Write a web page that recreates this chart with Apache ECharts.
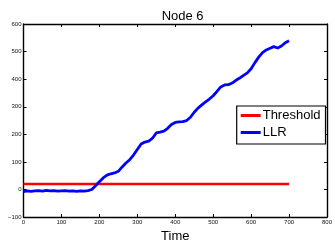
<!DOCTYPE html>
<html>
<head>
<meta charset="utf-8">
<script src="https://cdn.jsdelivr.net/npm/echarts@6/dist/echarts.min.js"></script>
<style>html,body{margin:0;padding:0;background:#fff;}#c{width:335px;height:248px;}</style>
</head>
<body>
<div id="c"></div>
<script>
var titleText = "Node 6";
var xLabel = "Time";
var timeSteps = [0,10,20,30,40,50,60,70,80,90,100,110,120,130,140,150,160,170,180,190,200,210,220,230,240,250,260,270,280,290,300,310,320,330,340,350,360,370,380,390,400,410,420,430,440,450,460,470,480,490,500,510,520,530,540,550,560,570,580,590,600,610,620,630,640,650,660,670,680,690,700];
var llrValues = [-8,-5,-7,-5,-4,-6,-3,-5,-4,-6,-5,-4,-6,-5,-7,-5,-6,-4,0,14,28,42,52,57,60,66,82,96,108,125,145,165,172,175,186,205,208,212,222,236,243,245,246,250,262,280,295,307,318,328,340,356,372,379,380,386,396,404,414,423,438,460,480,496,506,512,518,513,520,532,539];
var thresholdX = [0,700];
var thresholdValues = [20,20];
var seriesNames = ["Threshold","LLR"];

function pairs(xs, ys){ return xs.map(function(x,i){ return [x, ys[i]]; }); }
function fmt(v){ return v < 0 ? "\u2212" + Math.abs(v) : String(v); }

var chart = echarts.init(document.getElementById('c'), null, {renderer:'canvas'});
var font = "Liberation Sans, Arial, Helvetica, sans-serif";
var axisLineStyle = {color:'#000', width:1.4};
chart.setOption({
  animation:false,
  title:{text:titleText, left:177.6, textAlign:'center', top:5, textStyle:{fontFamily:font, fontSize:13, fontWeight:'normal', color:'#000'}},
  grid:{left:23.5, right:3.3, top:24, bottom:25.3},
  legend:{
    orient:'vertical', left:236.7, top:106,
    backgroundColor:'#fff', borderColor:'#000', borderWidth:1.2,
    padding:[3,5,5,4], itemGap:4, itemWidth:20, itemHeight:3,
    textStyle:{fontFamily:font, fontSize:13, color:'#000', padding:[0,0,0,-3]},
    data:[{name:seriesNames[0], icon:'rect'},{name:seriesNames[1], icon:'rect'}]
  },
  xAxis:[
    {type:'value', min:0, max:800, interval:100, name:xLabel, nameLocation:'middle', nameGap:12,
     nameTextStyle:{fontFamily:font, fontSize:13, color:'#000'},
     axisLine:{show:true, onZero:false, lineStyle:axisLineStyle},
     axisTick:{show:true, inside:true, length:3, lineStyle:{color:'#000'}},
     axisLabel:{fontFamily:font, fontSize:6, color:'#111', margin:2, formatter:fmt},
     splitLine:{show:false}},
    {type:'value', position:'top', min:0, max:800, interval:100,
     axisLine:{show:true, onZero:false, lineStyle:axisLineStyle},
     axisTick:{show:true, inside:true, length:3, lineStyle:{color:'#000'}},
     axisLabel:{show:false}, splitLine:{show:false}}
  ],
  yAxis:[
    {type:'value', min:-100, max:600, interval:100,
     axisLine:{show:true, onZero:false, lineStyle:axisLineStyle},
     axisTick:{show:true, inside:true, length:3, lineStyle:{color:'#000'}},
     axisLabel:{fontFamily:font, fontSize:6, color:'#111', margin:2, formatter:fmt},
     splitLine:{show:false}},
    {type:'value', position:'right', min:-100, max:600, interval:100,
     axisLine:{show:true, onZero:false, lineStyle:axisLineStyle},
     axisTick:{show:true, inside:true, length:3, lineStyle:{color:'#000'}},
     axisLabel:{show:false}, splitLine:{show:false}}
  ],
  series:[
    {name:seriesNames[0], type:'line', data:pairs(thresholdX, thresholdValues), showSymbol:false, symbol:'none',
     itemStyle:{color:'#ff0000'}, lineStyle:{color:'#ff0000', width:2.5}},
    {name:seriesNames[1], type:'line', data:pairs(timeSteps, llrValues), showSymbol:false, symbol:'none',
     itemStyle:{color:'#0000ff'}, lineStyle:{color:'#0000ff', width:2.8}}
  ]
});
</script>
</body>
</html>
